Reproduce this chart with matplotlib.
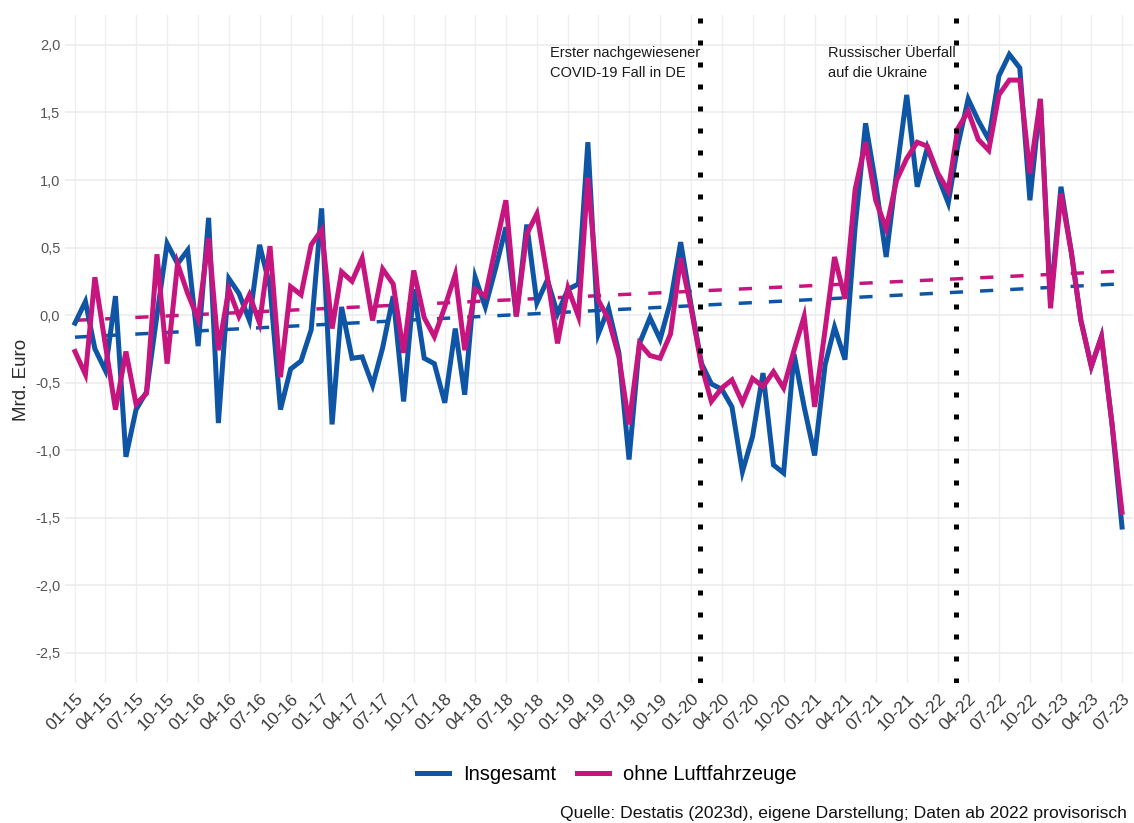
import matplotlib
matplotlib.use('Agg')
import matplotlib.pyplot as plt
import matplotlib.dates as mdates
from matplotlib.lines import Line2D
import numpy as np
import pandas as pd

plt.rcParams['font.family'] = ['Liberation Sans', 'DejaVu Sans']

# ---------------- data ----------------
dates = pd.date_range('2015-01-01', '2023-07-01', freq='MS')

insgesamt = [
    -0.06, 0.10, -0.25, -0.41, 0.14, -1.05, -0.70, -0.57, 0.00, 0.53, 0.38, 0.48,   # 2015
    -0.23, 0.72, -0.80, 0.27, 0.16, -0.04, 0.52, 0.21, -0.70, -0.40, -0.34, -0.11,  # 2016
    0.79, -0.81, 0.06, -0.32, -0.31, -0.52, -0.24, 0.14, -0.64, 0.19, -0.32, -0.36, # 2017
    -0.65, -0.10, -0.59, 0.28, 0.06, 0.35, 0.65, -0.01, 0.67, 0.09, 0.26, 0.01,     # 2018
    0.19, 0.23, 1.28, -0.14, 0.05, -0.28, -1.07, -0.21, -0.02, -0.18, 0.10, 0.54,   # 2019
    0.07, -0.36, -0.51, -0.55, -0.68, -1.16, -0.90, -0.43, -1.11, -1.17, -0.29, -0.68,  # 2020
    -1.04, -0.37, -0.09, -0.33, 0.65, 1.42, 0.97, 0.43, 1.06, 1.63, 0.95, 1.24,     # 2021
    1.03, 0.83, 1.25, 1.60, 1.44, 1.30, 1.77, 1.93, 1.83, 0.85, 1.60, 0.10,         # 2022
    0.95, 0.46, -0.04, -0.38, -0.16, -0.80, -1.57,                                  # 2023
]

ohne_luftfahrzeuge = [
    -0.27, -0.44, 0.28, -0.22, -0.70, -0.27, -0.66, -0.58, 0.45, -0.36, 0.38, 0.16,  # 2015
    -0.03, 0.57, -0.26, 0.19, -0.01, 0.15, -0.06, 0.51, -0.46, 0.21, 0.15, 0.52,     # 2016
    0.63, -0.10, 0.32, 0.25, 0.42, -0.04, 0.34, 0.23, -0.28, 0.33, -0.02, -0.16,     # 2017
    0.06, 0.30, -0.26, 0.19, 0.14, 0.51, 0.85, -0.01, 0.60, 0.75, 0.28, -0.21,       # 2018
    0.20, -0.01, 1.02, 0.11, -0.03, -0.31, -0.81, -0.21, -0.30, -0.32, -0.14, 0.42,  # 2019
    0.05, -0.38, -0.64, -0.54, -0.48, -0.65, -0.47, -0.53, -0.42, -0.54, -0.26, -0.01,  # 2020
    -0.68, -0.11, 0.43, 0.12, 0.93, 1.28, 0.85, 0.64, 1.00, 1.16, 1.28, 1.25,        # 2021
    1.05, 0.92, 1.38, 1.51, 1.30, 1.22, 1.63, 1.74, 1.74, 1.05, 1.60, 0.05,          # 2022
    0.90, 0.46, -0.04, -0.38, -0.16, -0.80, -1.46,                                   # 2023
]

series_names = ['Insgesamt', 'ohne Luftfahrzeuge']
series_colors = ['#0e56a5', '#c6157e']

# trend is estimated on the pre-COVID period and extended over the whole range
trend_fit_end = pd.Timestamp('2019-12-01')

tick_dates = pd.date_range('2015-01-01', '2023-07-01', freq='3MS')
tick_labels = ['01-15', '04-15', '07-15', '10-15', '01-16', '04-16', '07-16', '10-16',
               '01-17', '04-17', '07-17', '10-17', '01-18', '04-18', '07-18', '10-18',
               '01-19', '04-19', '07-19', '10-19', '01-20', '04-20', '07-20', '10-20',
               '01-21', '04-21', '07-21', '10-21', '01-22', '04-22', '07-22', '10-22',
               '01-23', '04-23', '07-23']

y_ticks = [-2.5, -2.0, -1.5, -1.0, -0.5, 0.0, 0.5, 1.0, 1.5, 2.0]
y_tick_labels = ['-2,5', '-2,0', '-1,5', '-1,0', '-0,5', '0,0', '0,5', '1,0', '1,5', '2,0']

event_dates = [pd.Timestamp('2020-01-27'), pd.Timestamp('2022-02-24')]
event_labels = ['Erster nachgewiesener\nCOVID-19 Fall in DE',
                'Russischer Überfall\nauf die Ukraine']

# ---------------- figure ----------------
W, H = 1134, 823
fig = plt.figure(figsize=(W / 100, H / 100), dpi=100)
ax = fig.add_axes([64.5 / W, 1 - 683 / H, 1068 / W, 668.4 / H])

x = mdates.date2num(dates)
span = x[-1] - x[0]
ax.set_xlim(x[0] - 0.01 * span, x[-1] + 0.01 * span)
ax.set_ylim(-2.725, 2.225)

# grid
ax.set_xticks(mdates.date2num(tick_dates))
ax.set_yticks(y_ticks)
ax.grid(True, axis='y', color='#ebebeb', lw=1.1, zorder=0)
ax.grid(True, axis='x', color='#efefef', lw=0.9, zorder=0)
ax.set_axisbelow(True)
for s in ax.spines.values():
    s.set_visible(False)
ax.tick_params(length=0)

# trend lines
mask = dates <= trend_fit_end
for vals, col in zip([insgesamt, ohne_luftfahrzeuge], series_colors):
    coef = np.polyfit(x[mask], np.array(vals)[mask], 1)
    ax.plot(x, np.polyval(coef, x), color=col, lw=2.5,
            linestyle=(0, (3.8, 4.9)), zorder=2)

# series
for vals, col in zip([insgesamt, ohne_luftfahrzeuge], series_colors):
    ax.plot(x, vals, color=col, lw=3.6, solid_joinstyle='miter', zorder=3)

# event lines
for d, lab in zip(event_dates, event_labels):
    xd = mdates.date2num(d)
    ax.axvline(xd, color='black', lw=3.6, linestyle=(0, (1, 3.4)), zorder=5)
    ax.text(xd, 1.99, lab, ha='right', va='top', multialignment='left',
            fontsize=10.5, color='#1a1a1a', zorder=6, linespacing=1.5)

# tick labels
ax.set_xticklabels(tick_labels, rotation=45, ha='right', rotation_mode='anchor',
                   fontsize=12.5, color='#3a3a3a')
ax.tick_params(axis='x', pad=6)
ax.set_yticklabels(y_tick_labels, fontsize=10.5, color='#555555')
ax.tick_params(axis='y', pad=3)

ax.set_ylabel('Mrd. Euro', fontsize=13.5, color='#2a2a2a')
ax.yaxis.set_label_coords(-0.032, 0.453)

handles = [Line2D([0], [0], color=c, lw=3.6) for c in series_colors]
fig.legend(handles, series_names, loc='center', bbox_to_anchor=(0.535, 1 - 775 / H),
           ncol=2, frameon=False, fontsize=14.5, handlelength=1.6,
           columnspacing=1.0, handletextpad=0.7)

fig.text(0.994, 0.002, 'Quelle: Destatis (2023d), eigene Darstellung; Daten ab 2022 provisorisch',
         ha='right', va='bottom', fontsize=12.6, color='#111111')

fig.savefig('out.png', dpi=100)
